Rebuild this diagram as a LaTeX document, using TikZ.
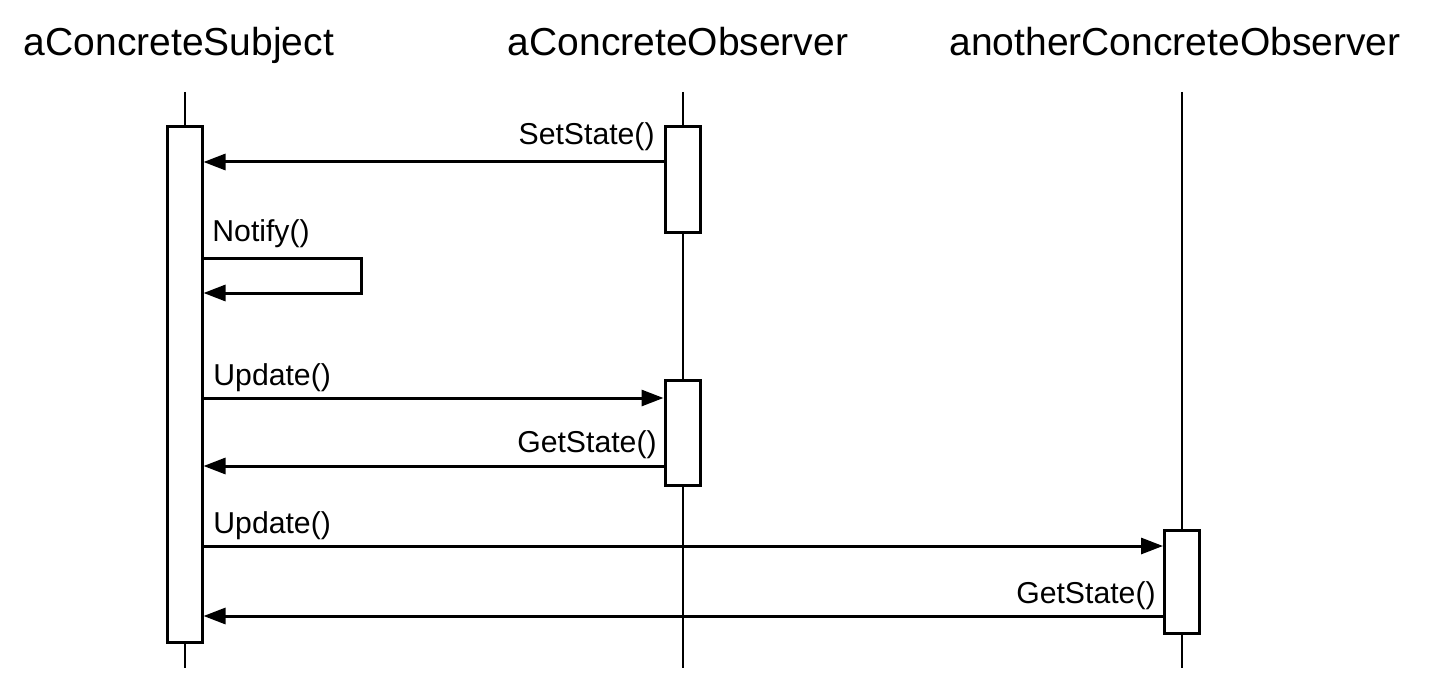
\documentclass[tikz,border=0pt]{standalone}
\usepackage{fontspec}
\setmainfont{Liberation Sans}
\usetikzlibrary{arrows.meta}

\tikzset{
  head/.style={anchor=base, inner sep=0pt, font=\fontsize{19.5}{23}\selectfont},
  call/.style={inner sep=0pt, font=\fontsize{15.1}{18}\selectfont},
  activation/.style={draw, fill=white, line width=1.5pt, inner sep=0pt, minimum width=17.5pt},
  lifeline/.style={line width=1.4pt},
  msg/.style={line width=1.5pt, -{Triangle[length=11pt,width=8pt]}}
}

\begin{document}
\begin{tikzpicture}[x=0.5pt,y=-0.5pt]
\useasboundingbox (0,0) rectangle (1438,695);

% Object names
\node[head] (subjName) at (179,56) {aConcreteSubject};
\node[head] (obsName) at (678,56) {aConcreteObserver};
\node[head] (otherName) at (1175,56) {anotherConcreteObserver};

% Lifelines
\coordinate (subjTop) at (185,92);
\coordinate (subjBot) at (185,668);
\coordinate (obsTop) at (683,92);
\coordinate (obsBot) at (683,668);
\coordinate (otherTop) at (1182,92);
\coordinate (otherBot) at (1182,668);
\draw[lifeline] (subjTop) -- (subjBot);
\draw[lifeline] (obsTop) -- (obsBot);
\draw[lifeline] (otherTop) -- (otherBot);

% Activation boxes
\node[activation, minimum height=257.5pt] (subj) at (184.5,384.5) {};
\node[activation, minimum height=52.5pt] (obsA) at (682.5,179.5) {};
\node[activation, minimum height=52.5pt] (obsB) at (682.5,432.5) {};
\node[activation, minimum height=51.5pt] (other) at (1182,581.5) {};

% Message heights
\coordinate (m1) at (0,162);
\coordinate (loopT) at (361,258);
\coordinate (loopB) at (361,293);
\coordinate (m3) at (0,398);
\coordinate (m4) at (0,466);
\coordinate (m5) at (0,546);
\coordinate (m6) at (0,616);

% Messages
\draw[msg] (obsA.west |- m1) -- (subj.east |- m1);
\draw[msg] (subj.east |- loopT) -- (loopT) -- (loopB) -- (subj.east |- loopB);
\draw[msg] (subj.east |- m3) -- (obsB.west |- m3);
\draw[msg] (obsB.west |- m4) -- (subj.east |- m4);
\draw[msg] (subj.east |- m5) -- (other.west |- m5);
\draw[msg] (other.west |- m6) -- (subj.east |- m6);

% Labels
\node[call, anchor=base east] (setLbl) at (655,145) {SetState()};
\node[call, anchor=base west] (notifyLbl) at (212,242) {Notify()};
\node[call, anchor=base west] (updLblA) at (213,385) {Update()};
\node[call, anchor=base east] (getLblA) at (657,452) {GetState()};
\node[call, anchor=base west] (updLblB) at (213,533) {Update()};
\node[call, anchor=base east] (getLblB) at (1156,603) {GetState()};
\end{tikzpicture}
\end{document}
